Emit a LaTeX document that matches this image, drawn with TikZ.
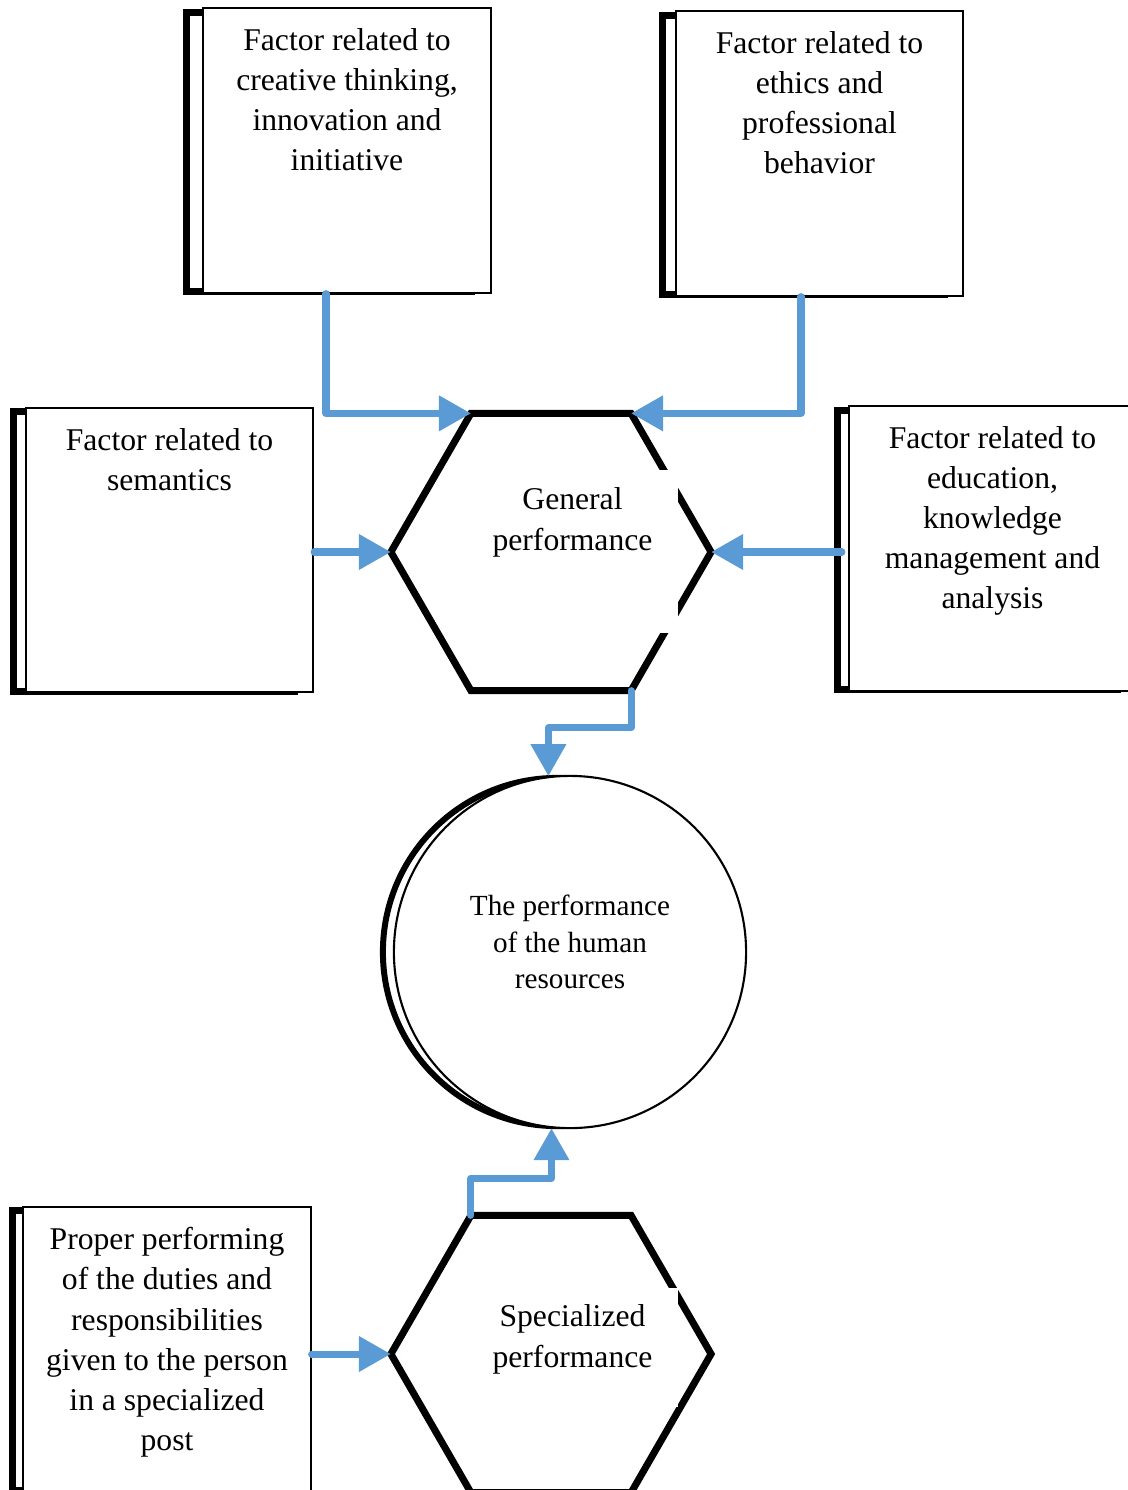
\documentclass[tikz,border=0pt]{standalone}
\usepackage{fontspec}
\setmainfont{Liberation Serif}
\usetikzlibrary{positioning,calc,shapes.geometric,arrows.meta}
\definecolor{flowblue}{RGB}{91,155,213}
\pgfdeclarelayer{back}
\pgfsetlayers{back,main}

\begin{document}
\begin{tikzpicture}[x=0.01cm,y=-0.01cm,
    factor/.style={rectangle,draw,fill=white,line width=0.6pt,minimum width=2.87cm,minimum height=2.84cm,inner sep=0pt},
    backframe/.style={draw,fill=white,line width=2pt},
    boxtext/.style={align=center,inner sep=0pt,font=\fontsize{9}{11.4}\selectfont},
    hexa/.style={regular polygon,regular polygon sides=6,draw,line width=2pt,minimum size=3.2cm,inner sep=0pt,outer sep=0pt},
    hexbox/.style={rectangle,fill=white,minimum width=2.11cm,inner sep=0pt},
    flow/.style={draw=flowblue,line width=2pt,line join=round,line cap=round,-{Triangle[length=0.32cm,width=0.34cm]}}]
  \useasboundingbox (0,0) rectangle (1128,1490);

  % factor boxes
  \node[factor] (creative) at (347,150.5) {};
  \node[factor] (ethics) at (819.5,153.5) {};
  \node[factor] (semantics) at (169.5,550) {};
  \node[factor] (education) at (992.5,548.5) {};
  \node[factor] (proper) at (167,1349) {};

  \begin{pgfonlayer}{back}
    \foreach \b/\d in {creative/16,ethics/12,semantics/11,education/10,proper/10}
      \draw[backframe] ($(\b.north west)+(-\d,5)$) rectangle ($(\b.south east)+(-20,-2)$);
  \end{pgfonlayer}

  \node[boxtext,below=0.2cm of creative.north] (creativetext)
    {Factor related to\\creative thinking,\\innovation and\\initiative};
  \node[boxtext,below=0.2cm of ethics.north] (ethicstext)
    {Factor related to\\ethics and\\professional\\behavior};
  \node[boxtext,below=0.21cm of semantics.north] (semanticstext)
    {Factor related to\\semantics};
  \node[boxtext,below=0.2cm of education.north] (educationtext)
    {Factor related to\\education,\\knowledge\\management and\\analysis};
  \node[boxtext,below=0.21cm of proper.north] (propertext)
    {Proper performing\\of the duties and\\responsibilities\\given to the person\\in a specialized\\post};

  % performance hexagons
  \node[hexa] (general) at (551,552) {};
  \node[hexbox,minimum height=1.63cm] (generalbox) at (572.5,551.5) {};
  \node[boxtext,below=0.18cm of generalbox.north] (generaltext) {General\\performance};

  \node[hexa] (special) at (551,1354) {};
  \node[hexbox,minimum height=1.19cm] (specialbox) at (572.5,1347.5) {};
  \node[boxtext,below=0.17cm of specialbox.north] (specialtext) {Specialized\\performance};

  % human resources
  \node[circle,draw,fill=white,line width=0.6pt,minimum size=3.52cm,inner sep=0pt] (hr) at (570,952) {};
  \begin{pgfonlayer}{back}
    \draw[line width=1.7pt] ($(hr.center)+(-13,0)$) circle (1.74cm);
  \end{pgfonlayer}
  \node[align=center,inner sep=0pt,font=\fontsize{8.3}{10.4}\selectfont] (hrtext) at ($(hr.center)+(0,-10)$)
    {The performance\\of the human\\resources};

  % connectors
  \draw[flow] ([xshift=-0.21cm]creative.south) |- (general.120);
  \draw[flow] ([xshift=-0.185cm]ethics.south) |- (general.60);
  \draw[flow] (semantics.east |- general.180) -- (general.180);
  \draw[flow] ([xshift=-0.06cm]education.west |- general.0) -- (general.0);
  \draw[flow] (general.300) -- ++(0,37) -| (hr.97);
  \draw[flow] (special.120) -- ++(0,-37) -| (hr.264);
  \draw[flow] (proper.east |- special.180) -- (special.180);
\end{tikzpicture}
\end{document}
